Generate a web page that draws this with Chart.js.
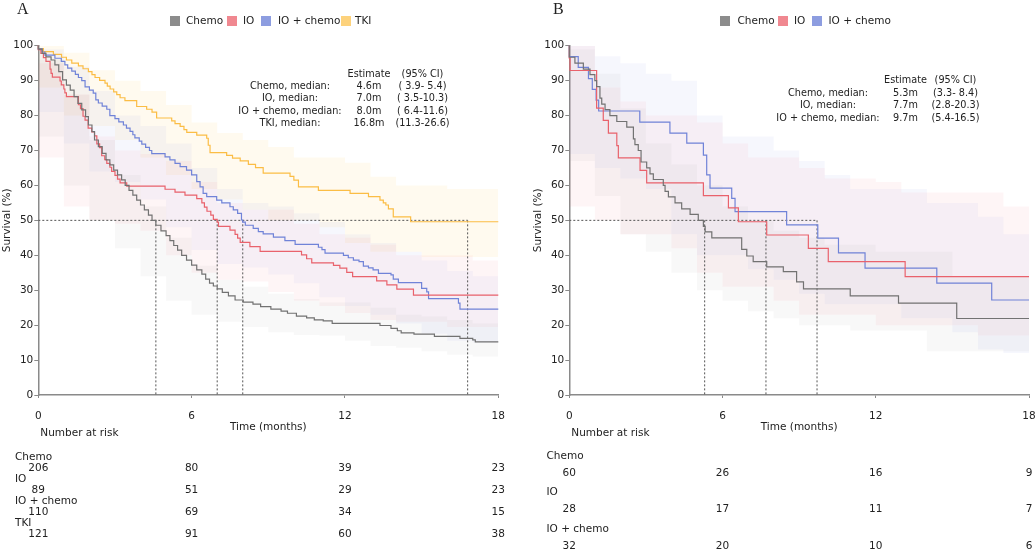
<!DOCTYPE html>
<html>
<head>
<meta charset="utf-8">
<script src="https://cdn.jsdelivr.net/npm/chart.js@4.4.1/dist/chart.umd.min.js"></script>
<style>
    body { margin: 0; background: #fff; }
    #wrap { position: relative; width: 1036px; height: 554px; font-family: 'DejaVu Sans', sans-serif; color: #222; overflow: hidden; }
    canvas { position: absolute; top: 0; }
    .t { position: absolute; white-space: pre; font-size: 10.5px; line-height: 12px; }
    .sq { position: absolute; width: 10px; height: 10px; }
</style>
</head>
<body>
<div id="wrap">
    <canvas id="chartA" width="518" height="554" style="left:0"></canvas>
    <canvas id="chartB" width="518" height="554" style="left:518px"></canvas>
</div>
<script>
// ---------- data ----------
const monthTicks = [0, 6, 12, 18];
const ciTimes = [0, 1, 2, 3, 4, 5, 6, 7, 8, 9, 10, 11, 12, 13, 14, 15, 16, 17, 18];

// Panel A: Kaplan-Meier steps (time in months, survival %)
const chemoA_t = [0, 0.15, 0.3, 0.5, 0.65, 0.8, 0.95, 1.1, 1.25, 1.4, 1.55, 1.7, 1.85, 1.96, 2.1, 2.2, 2.35, 2.5, 2.65, 2.8, 2.95, 3.1, 3.26, 3.4, 3.55, 3.7, 3.85, 4.0, 4.15, 4.31, 4.45, 4.6, 4.8, 5.0, 5.15, 5.3, 5.45, 5.61, 5.8, 6.0, 6.2, 6.4, 6.55, 6.7, 6.85, 7.0, 7.2, 7.44, 7.7, 8.02, 8.4, 8.7, 9.1, 9.5, 9.75, 10.1, 10.5, 10.8, 11.15, 11.5, 13.37, 13.8, 14.05, 14.2, 14.7, 15.5, 16.5, 17.0, 17.1, 17.45, 18];
const chemoA_s = [100, 99, 97.8, 96.8, 95.9, 94.5, 92.6, 90.2, 88.7, 87.3, 85.4, 83.5, 81.6, 79.7, 77.3, 75.4, 73, 71.1, 69.2, 67.3, 65.9, 64.4, 63, 61.6, 60, 58.6, 57.2, 55.8, 54.4, 53, 51.5, 50, 48.6, 47, 45.6, 44.2, 42.8, 41.5, 40, 38.6, 37.2, 35.8, 34.6, 33.2, 32, 31.2, 30.4, 29.4, 28.4, 27.2, 26.6, 26, 25.3, 24.6, 24, 23.4, 22.6, 22.1, 21.5, 21.2, 20.5, 19.9, 19.1, 18.4, 17.8, 17.4, 16.8, 16.2, 15.8, 15.2, 15.2];

const ioA_t = [0, 0.1, 0.2, 0.3, 0.46, 0.5, 0.55, 0.85, 0.9, 1.0, 1.04, 1.1, 1.57, 1.65, 1.75, 1.83, 1.95, 2.09, 2.2, 2.29, 2.4, 2.48, 2.6, 2.68, 2.8, 2.87, 3.0, 3.1, 3.2, 3.46, 4.96, 5.35, 5.74, 6.2, 6.4, 6.5, 6.6, 6.75, 6.85, 7.0, 7.05, 7.5, 7.7, 7.8, 7.9, 8.28, 8.68, 10.3, 10.5, 10.7, 11.55, 11.8, 12.07, 12.3, 13.24, 13.64, 14.03, 14.68, 17.61, 18];
const ioA_s = [100, 98.9, 97.8, 96.6, 95.5, 93.3, 92.1, 91, 89.9, 88.8, 87.6, 86.5, 85.4, 83.1, 82, 79.8, 78.7, 76.4, 75.3, 74.2, 71.9, 70.8, 68.5, 67.4, 66.3, 65.2, 64, 62.9, 61.8, 60.7, 59.8, 58.9, 58.1, 57.2, 56.2, 55, 53.8, 52.6, 51.5, 50.3, 49.5, 48.3, 47.2, 46, 44.9, 43.7, 42.5, 41.1, 40.1, 39, 37.8, 37.1, 36.3, 35.1, 33.9, 32.7, 31.5, 30.3, 28.6, 28.6];

const ioChemoA_t = [0, 0.15, 0.26, 0.65, 0.9, 1.04, 1.15, 1.31, 1.45, 1.57, 1.7, 1.83, 2.0, 2.15, 2.25, 2.35, 2.5, 2.68, 2.8, 3.0, 3.15, 3.33, 3.45, 3.59, 3.7, 3.78, 3.95, 4.05, 4.2, 4.35, 4.44, 4.96, 5.15, 5.35, 5.55, 5.8, 6.0, 6.2, 6.33, 6.45, 6.59, 6.98, 7.18, 7.5, 7.63, 7.8, 7.95, 8.0, 8.1, 8.41, 8.61, 8.8, 9.2, 9.65, 10.05, 10.96, 11.1, 11.22, 11.94, 12.13, 12.33, 12.55, 12.72, 12.92, 13.1, 13.31, 13.8, 13.89, 14.09, 15.0, 15.2, 15.27, 16.44, 16.5, 17.8, 18];
const ioChemoA_s = [100, 99.1, 98.2, 97.3, 96.4, 95.5, 94.5, 93.6, 92.7, 91.8, 90.9, 90, 88.2, 87.3, 86.4, 84.5, 83.6, 82.7, 81.8, 80, 79.1, 78.2, 77.3, 76.4, 75.5, 74.5, 73.6, 72.7, 71.8, 70.9, 70, 69.1, 68.2, 67.3, 66.3, 65.4, 64.4, 63, 61.1, 59.6, 57.7, 56.8, 55.8, 55, 53.9, 53, 52, 50.1, 49.5, 48.6, 47.7, 46.8, 46.1, 45.2, 44.2, 43.1, 42.3, 41.6, 40.6, 40, 39.3, 38.6, 38.2, 36.9, 36.4, 35.8, 34.8, 34.4, 33.2, 32.2, 30.5, 29.5, 27.6, 26.3, 24.6, 24.6];

const tkiA_t = [0, 0.2, 0.59, 0.91, 1.1, 1.31, 1.57, 1.75, 1.96, 2.1, 2.22, 2.4, 2.61, 2.7, 2.81, 2.95, 3.07, 3.2, 3.39, 3.85, 4.24, 4.45, 4.63, 5.22, 5.35, 5.55, 5.7, 5.81, 6.2, 6.59, 6.65, 6.72, 7.37, 7.6, 7.9, 8.22, 8.5, 8.8, 9.85, 10.0, 10.18, 10.96, 12.2, 12.92, 13.37, 13.5, 13.6, 13.7, 13.89, 14.57, 16.83, 18];
const tkiA_s = [100, 99.2, 98.3, 97.5, 96.7, 95.9, 95, 94.2, 93.4, 92.6, 91.7, 90.9, 90.1, 89.3, 88.4, 87.6, 86.8, 86, 85.1, 84.3, 82.6, 81.8, 81, 79.3, 78.5, 77.7, 76.9, 76, 75.2, 74.4, 73.5, 71.5, 69.4, 68.6, 67.8, 67, 66, 65.1, 63.5, 62.6, 61.5, 59.6, 58.6, 57.7, 56.8, 55.8, 55, 54.4, 53.3, 51, 49.6, 49.6];

// Panel A: 95% CI bands on the monthly grid
const chemoA_hi = [100, 96, 86, 73, 63, 54, 45, 37, 33, 31, 29, 27.5, 26.5, 26.5, 25, 23, 22.5, 21.5, 20.5];
const chemoA_lo = [86, 74, 60, 50, 42, 34, 27, 23, 21, 19.5, 18, 17.2, 17, 15.5, 14, 13.5, 12.5, 11.5, 11];
const ioA_hi = [100, 95, 86, 74, 70, 69, 67, 61, 55, 53, 53, 49, 46, 45, 43, 40, 40, 40, 38.5];
const ioA_lo = [80, 68, 54, 50, 49, 47, 40, 35, 33, 32.5, 29.5, 27, 25.5, 23.5, 21.5, 21, 21, 19.5, 19.5];
const ioChemoA_hi = [100, 99, 94, 87, 80, 77, 72, 65, 59, 55, 54, 52, 49.5, 46, 43.5, 41, 38.5, 35.5, 34];
const ioChemoA_lo = [89, 81, 72, 64, 61, 56, 48, 41.5, 37.5, 36.5, 34.5, 32, 28, 25.5, 23, 20.5, 17.5, 15.5, 15];
const tkiA_hi = [100, 100, 98, 93, 90, 87, 83, 78, 75, 73, 71, 68, 68, 66.5, 62.5, 60, 60, 59, 59];
const tkiA_lo = [91, 88, 80, 77, 73, 68, 63, 59, 56, 53, 50, 50, 48, 43.5, 41, 41, 39.5, 39.5, 39.5];

const medianA = [4.6, 7.0, 8.0, 16.8];
const riskA_chemo = [206, 80, 39, 23];
const riskA_io = [89, 51, 29, 23];
const riskA_ioChemo = [110, 69, 34, 15];
const riskA_tki = [121, 91, 60, 38];

// Panel B
const chemoB_t = [0, 0.22, 0.55, 0.81, 1.0, 1.07, 1.2, 1.27, 1.4, 1.59, 1.86, 2.25, 2.51, 2.57, 2.7, 2.81, 3.03, 3.16, 3.29, 3.68, 3.75, 3.88, 4.14, 4.4, 4.73, 5.05, 5.25, 5.32, 5.58, 6.75, 6.95, 7.2, 7.73, 8.38, 8.9, 9.17, 11.0, 12.89, 15.17, 15.76, 18];
const chemoB_s = [100, 96.7, 95, 93.3, 91.7, 90, 88.3, 85, 83.3, 81.7, 80, 78.3, 76.7, 73.3, 71.7, 70, 66.7, 65, 63.3, 61.7, 60, 58.3, 56.7, 55, 53.3, 51.7, 50, 48.3, 46.7, 45, 41.7, 39.8, 38.2, 36.7, 35.3, 32.4, 30.4, 28.4, 26.3, 21.9, 21.9];

const ioB_t = [0, 0.03, 1.07, 1.33, 1.53, 1.86, 1.92, 2.77, 3.03, 5.25, 6.23, 6.62, 7.73, 9.36, 10.14, 13.15, 17.46, 18];
const ioB_s = [100, 96.4, 92.9, 82.1, 78.6, 75, 71.4, 67.9, 64.3, 60.7, 57.1, 53.6, 49.6, 45.8, 42, 38.2, 33.9, 33.9];

const ioChemoB_t = [0, 0.35, 0.75, 0.9, 1.05, 1.15, 2.76, 3.94, 4.6, 5.25, 5.38, 5.51, 6.36, 6.49, 8.51, 9.73, 10.54, 11.58, 14.39, 16.54, 17.07, 18];
const ioChemoB_s = [100, 96.9, 93.8, 90.6, 87.5, 84.4, 81.3, 78.1, 75, 72.1, 68.7, 63, 59.2, 56.3, 52.5, 48.7, 44.9, 40.7, 36.3, 32, 27.2, 27.2];

const chemoB_hi = [100, 99, 92, 82, 72, 66, 60, 54, 50, 47, 45, 43, 43, 41, 41, 41, 34, 34, 34];
const chemoB_lo = [80, 67, 57, 46, 41, 35, 30, 27, 24, 22, 20, 20, 18.5, 18.5, 18.5, 12.5, 12.5, 12.5, 12.5];
const ioB_hi = [100, 100, 88, 84, 80, 80, 78, 72, 68, 68, 65, 62, 62, 61, 58, 58, 58, 58, 54];
const ioB_lo = [85, 54, 50, 46, 46, 42, 35, 31, 31, 27, 23, 23, 23, 20, 20, 20, 20, 17, 17];
const ioChemoB_hi = [100, 100, 97, 95, 92, 90, 80, 74, 74, 70, 67, 63, 59, 59, 59, 55, 55, 51, 46];
const ioChemoB_lo = [88, 69, 65, 62, 59, 46, 40, 40, 36, 33, 29, 26, 26, 26, 22, 22, 18, 13, 12];

const medianB = [5.3, 7.7, 9.7];
const riskB_chemo = [60, 26, 16, 9];
const riskB_io = [28, 17, 11, 7];
const riskB_ioChemo = [32, 20, 10, 6];

// ---------- styles ----------
const COLORS = {
    chemo:   { line: '#727272', band: 'rgba(120,120,120,0.055)', key: '#8c8c8c' },
    io:      { line: '#e9626c', band: 'rgba(240,110,120,0.065)', key: '#f08890' },
    ioChemo: { line: '#7083d8', band: 'rgba(120,135,220,0.065)', key: '#8d9de0' },
    tki:     { line: '#fbbd45', band: 'rgba(255,200,80,0.09)',  key: '#fdd27c' }
};

Chart.defaults.font.family = "'DejaVu Sans', sans-serif";
Chart.defaults.font.size = 10.5;
Chart.defaults.color = '#222';

function pts(t, s) {
    return t.map((x, i) => ({ x: x, y: s[i] }));
}

function kmLine(label, t, s, color) {
    return {
        label: label, data: pts(t, s), stepped: 'after',
        borderColor: color, borderWidth: 1.2, pointRadius: 0,
        fill: false, order: 0, clip: 4
    };
}

// upper edge + lower edge filled to the upper one
function ciBand(hi, lo, color) {
    return [
        { data: pts(ciTimes, hi), stepped: 'after', borderWidth: 0, pointRadius: 0, fill: false, order: 2 },
        { data: pts(ciTimes, lo), stepped: 'after', borderWidth: 0, pointRadius: 0, fill: '-1', backgroundColor: color, order: 2 }
    ];
}

function medianLines(meds) {
    const dash = { borderColor: '#555', borderWidth: 1, borderDash: [2, 2], pointRadius: 0, fill: false, order: 1 };
    const sets = [Object.assign({ data: [{ x: 0, y: 50 }, { x: Math.max(...meds), y: 50 }] }, dash)];
    meds.forEach(m => {
        sets.push(Object.assign({ data: [{ x: m, y: 50 }, { x: m, y: 0 }] }, dash));
    });
    return sets;
}

function makeChart(id, datasets, padLeft, padRight) {
    return new Chart(document.getElementById(id), {
        type: 'line',
        data: { datasets: datasets },
        options: {
            responsive: false,
            animation: false,
            layout: { padding: { left: padLeft, right: padRight, top: 45.7, bottom: 119 } },
            plugins: { legend: { display: false }, tooltip: { enabled: false } },
            scales: {
                x: {
                    type: 'linear', min: 0, max: 18,
                    afterFit: function (scale) { scale.height = 40; },
                    // tall line box pushes the labels down without widening the side padding
                    ticks: { stepSize: 6, padding: 0, maxRotation: 0, autoSkip: false, font: { lineHeight: 3.55 } },
                    grid: { drawOnChartArea: false, tickLength: 3, color: '#8a8a8a' },
                    border: { color: '#8a8a8a', width: 1.5 },
                    title: { display: true, text: 'Time (months)', padding: { top: 0, bottom: 1 } }
                },
                y: {
                    min: 0, max: 100,
                    afterFit: function (scale) { scale.width = 38.3; },
                    ticks: { stepSize: 10, padding: 1 },
                    grid: { drawOnChartArea: false, tickLength: 4, color: '#8a8a8a' },
                    border: { color: '#8a8a8a', width: 1.5 },
                    title: { display: true, text: 'Survival (%)', padding: { top: 1, bottom: 0 } }
                }
            }
        }
    });
}

// ---------- charts ----------
const chartA = makeChart('chartA', [
    ...ciBand(chemoA_hi, chemoA_lo, COLORS.chemo.band),
    ...ciBand(ioA_hi, ioA_lo, COLORS.io.band),
    ...ciBand(ioChemoA_hi, ioChemoA_lo, COLORS.ioChemo.band),
    ...ciBand(tkiA_hi, tkiA_lo, COLORS.tki.band),
    ...medianLines(medianA),
    kmLine('Chemo', chemoA_t, chemoA_s, COLORS.chemo.line),
    kmLine('IO', ioA_t, ioA_s, COLORS.io.line),
    kmLine('IO + chemo', ioChemoA_t, ioChemoA_s, COLORS.ioChemo.line),
    kmLine('TKI', tkiA_t, tkiA_s, COLORS.tki.line)
], 0, 19.7);

const chartB = makeChart('chartB', [
    ...ciBand(chemoB_hi, chemoB_lo, COLORS.chemo.band),
    ...ciBand(ioB_hi, ioB_lo, COLORS.io.band),
    ...ciBand(ioChemoB_hi, ioChemoB_lo, COLORS.ioChemo.band),
    ...medianLines(medianB),
    kmLine('Chemo', chemoB_t, chemoB_s, COLORS.chemo.line),
    kmLine('IO', ioB_t, ioB_s, COLORS.io.line),
    kmLine('IO + chemo', ioChemoB_t, ioChemoB_s, COLORS.ioChemo.line)
], 13, 7);

// ---------- text around the plots ----------
const wrap = document.getElementById('wrap');

function put(text, x, cy, opts) {
    opts = opts || {};
    const el = document.createElement('div');
    el.className = 't';
    el.textContent = text;
    const size = opts.size || 10.5;
    el.style.fontSize = size + 'px';
    el.style.lineHeight = size + 'px';
    if (opts.font) el.style.fontFamily = opts.font;
    el.style.top = (cy - size / 2) + 'px';
    el.style.left = x + 'px';
    if (opts.align === 'center') el.style.transform = 'translateX(-50%)';
    wrap.appendChild(el);
}

function legendKey(x, cy, color) {
    const sq = document.createElement('div');
    sq.className = 'sq';
    sq.style.left = x + 'px';
    sq.style.top = (cy - 5) + 'px';
    sq.style.background = color;
    wrap.appendChild(sq);
}

// panel letters
put('A', 17, 8.5, { size: 16, font: "'Liberation Serif', serif" });
put('B', 553, 8.5, { size: 16, font: "'Liberation Serif', serif" });

// legends
legendKey(170, 20.7, COLORS.chemo.key);   put('Chemo', 186, 20.7);
legendKey(227, 20.7, COLORS.io.key);      put('IO', 243, 20.7);
legendKey(261, 20.7, COLORS.ioChemo.key); put('IO + chemo', 278, 20.7);
legendKey(340.5, 20.7, COLORS.tki.key);   put('TKI', 355, 20.7);

legendKey(720, 20.7, COLORS.chemo.key);   put('Chemo', 737.5, 20.7);
legendKey(778, 20.7, COLORS.io.key);      put('IO', 794, 20.7);
legendKey(812, 20.7, COLORS.ioChemo.key); put('IO + chemo', 828.5, 20.7);

// median tables
function medianTable(rows, x1, x2, x3, yHead, dy) {
    const m = { size: 9.7, align: 'center' };
    put('Estimate', x2, yHead, m);
    put('(95% CI)', x3, yHead, m);
    rows.forEach((r, i) => {
        const y = yHead + dy * (i + 1);
        put(r[0], x1, y, m);
        put(r[1], x2, y, m);
        put(r[2], x3, y, m);
    });
}

medianTable([
    ['Chemo, median:', '4.6m', '( 3.9- 5.4)'],
    ['IO, median:', '7.0m', '( 3.5-10.3)'],
    ['IO + chemo, median:', '8.0m', '( 6.4-11.6)'],
    ['TKI, median:', '16.8m', '(11.3-26.6)']
], 290, 369, 422.5, 73.5, 12.4);

medianTable([
    ['Chemo, median:', '5.3m', '(3.3- 8.4)'],
    ['IO, median:', '7.7m', '(2.8-20.3)'],
    ['IO + chemo, median:', '9.7m', '(5.4-16.5)']
], 828, 905.5, 955.5, 80.2, 12.4);

// number-at-risk tables, columns placed with the chart's own x scale
function riskTable(chart, offsetX, rows, labelX, firstY, groupDy, numDy) {
    const xs = chart.scales.x;
    put('Number at risk', offsetX + xs.left + 2, 432);
    rows.forEach((r, i) => {
        const y = firstY + groupDy * i;
        put(r[0], labelX, y);
        r[1].forEach((n, j) => {
            put(String(n), offsetX + xs.getPixelForValue(monthTicks[j]), y + numDy, { align: 'center' });
        });
    });
}

riskTable(chartA, 0, [
    ['Chemo', riskA_chemo],
    ['IO', riskA_io],
    ['IO + chemo', riskA_ioChemo],
    ['TKI', riskA_tki]
], 15, 456, 22, 11);

riskTable(chartB, 518, [
    ['Chemo', riskB_chemo],
    ['IO', riskB_io],
    ['IO + chemo', riskB_ioChemo]
], 546.5, 455, 36.6, 17);
</script>
</body>
</html>
